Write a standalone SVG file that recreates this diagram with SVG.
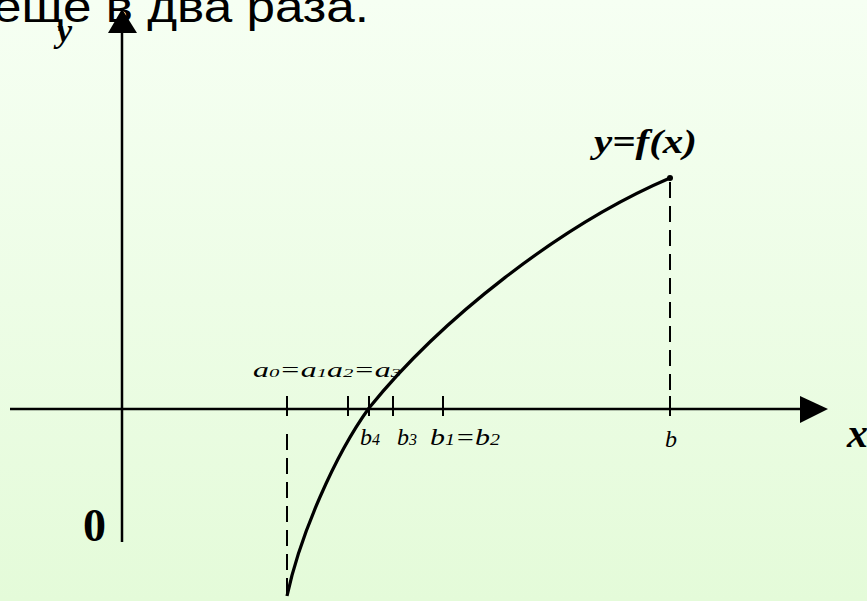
<svg xmlns="http://www.w3.org/2000/svg" width="867" height="601" viewBox="0 0 867 601">
<defs>
<linearGradient id="bg" x1="0" y1="0" x2="0" y2="1">
<stop offset="0" stop-color="#F6FFF3"/>
<stop offset="1" stop-color="#E4FBD9"/>
</linearGradient>
<style>
.ax{stroke:#000;stroke-width:2.5;fill:none}
.tk{stroke:#000;stroke-width:2;fill:none}
.ds{stroke:#000;stroke-width:2;fill:none;stroke-dasharray:16 8}
.cv{stroke:#000;stroke-width:3.2;fill:none}
.lb{font-family:"Liberation Serif",serif;font-style:italic;fill:#000}
.hd{font-family:"Liberation Sans",Arial,sans-serif;font-size:44px;fill:#000}
</style>
</defs>
<rect width="867" height="601" fill="url(#bg)"/>
<text class="hd" x="-7" y="22" textLength="376" lengthAdjust="spacingAndGlyphs">еще в два раза.</text>
<g id="axes">
<line class="ax" x1="122" y1="30" x2="122" y2="542"/>
<polygon points="122,9 108,33 137,33" fill="#000"/>
<line class="ax" x1="10" y1="409" x2="805" y2="409"/>
<polygon points="828,409 800,396 800,423" fill="#000"/>
</g>
<g id="ticks">
<line class="tk" x1="287" y1="396" x2="287" y2="416"/>
<line class="tk" x1="348" y1="396" x2="348" y2="416"/>
<line class="tk" x1="369" y1="396" x2="369" y2="416"/>
<line class="tk" x1="393" y1="396" x2="393" y2="416"/>
<line class="tk" x1="443" y1="396" x2="443" y2="416"/>
<line class="tk" x1="670" y1="396" x2="670" y2="416"/>
</g>
<g id="connectors">
<line class="ds" x1="287" y1="434" x2="287" y2="596"/>
<line class="ds" x1="670" y1="182" x2="670" y2="410"/>
</g>
<g id="curve">
<path class="cv" d="M287,596 C300,535 335,455 369,408 C440,320 560,225 670,178"/>
<circle cx="670" cy="178" r="3" fill="#000"/>
</g>
<g id="labels">
<text class="lb" x="57" y="42" font-size="34" font-weight="bold">y</text>
<text class="lb" x="847" y="447" font-size="42" font-weight="bold" font-style="normal">x</text>
<text x="83" y="541" font-family="Liberation Serif,serif" font-weight="bold" font-size="46">0</text>
<text class="lb" x="594" y="153" font-size="34" font-weight="bold" textLength="103" lengthAdjust="spacingAndGlyphs">y=f(x)</text>
<text class="lb" x="253" y="377" font-size="20" textLength="148" lengthAdjust="spacingAndGlyphs">a<tspan font-size="13">0</tspan>=a<tspan font-size="13">1</tspan>a<tspan font-size="13">2</tspan>=a<tspan font-size="13">3</tspan></text>
<text class="lb" x="360" y="445" font-size="24">b<tspan font-size="16">4</tspan></text>
<text class="lb" x="397" y="445" font-size="24">b<tspan font-size="16">3</tspan></text>
<text class="lb" x="430" y="445" font-size="24" textLength="70" lengthAdjust="spacingAndGlyphs">b<tspan font-size="16">1</tspan>=b<tspan font-size="16">2</tspan></text>
<text class="lb" x="665" y="447" font-size="24">b</text>
</g>
</svg>
